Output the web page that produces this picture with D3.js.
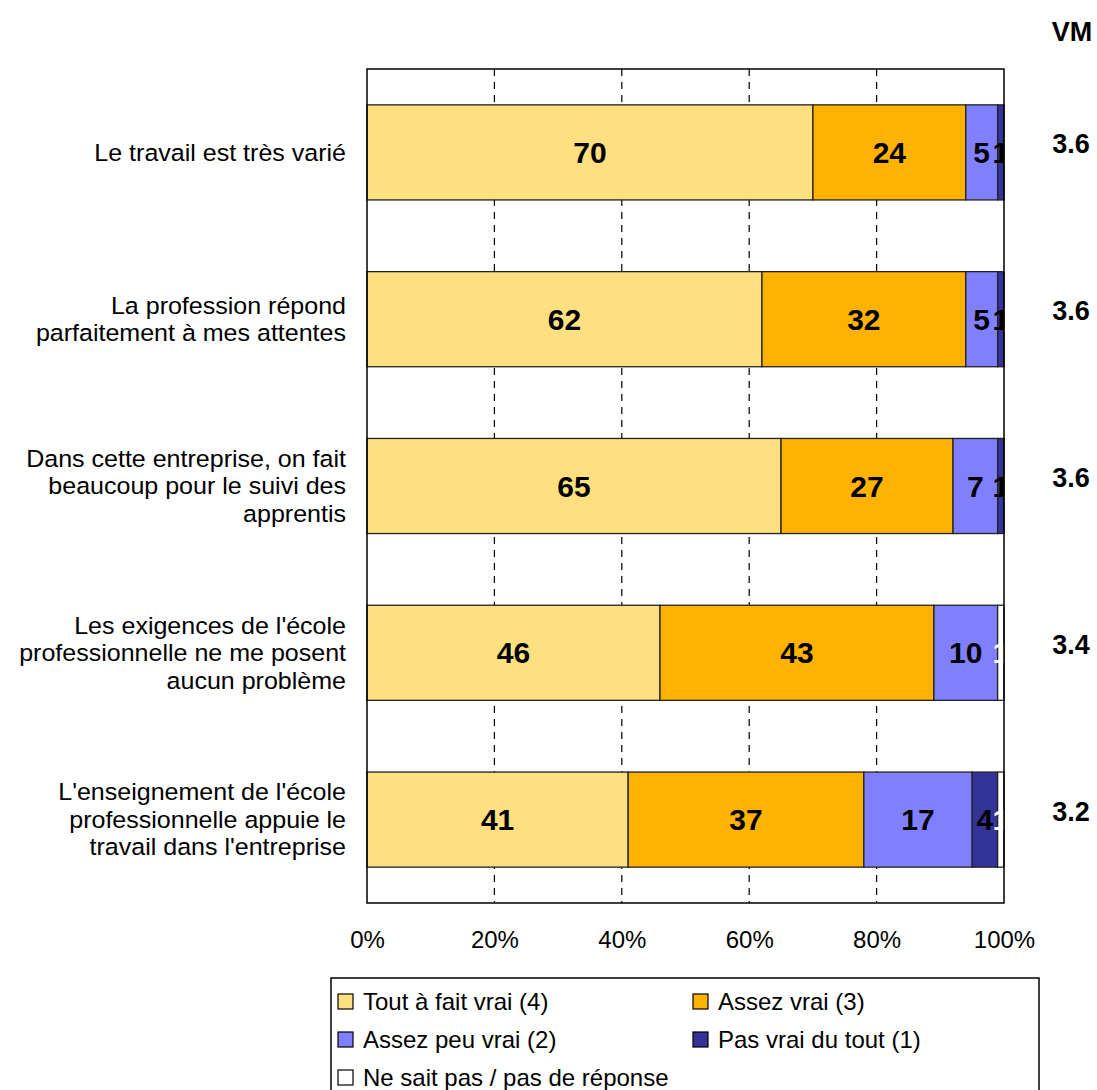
<!DOCTYPE html>
<html><head><meta charset="utf-8">
<script src="https://cdn.jsdelivr.net/npm/d3@7"></script>
<style>body{margin:0;background:#fff;} svg{display:block;font-family:Arial,"Liberation Sans",sans-serif;}</style>
</head><body>
<script>
const categories = [
  ["Le travail est très varié"],
  ["La profession répond", "parfaitement à mes attentes"],
  ["Dans cette entreprise, on fait", "beaucoup pour le suivi des", "apprentis"],
  ["Les exigences de l'école", "professionnelle ne me posent", "aucun problème"],
  ["L'enseignement de l'école", "professionnelle appuie le", "travail dans l'entreprise"]
];
const seriesNames = ["Tout à fait vrai (4)", "Assez vrai (3)", "Assez peu vrai (2)", "Pas vrai du tout (1)", "Ne sait pas / pas de réponse"];
const toutAFait = [70, 62, 65, 46, 41];
const assez = [24, 32, 27, 43, 37];
const assezPeu = [5, 5, 7, 10, 17];
const pasDuTout = [1, 1, 1, 0, 4];
const nsp = [0, 0, 0, 1, 1];
const vm = ["3.6", "3.6", "3.6", "3.4", "3.2"];
const ticks = [0, 20, 40, 60, 80, 100];

const series = [toutAFait, assez, assezPeu, pasDuTout, nsp];
const colors = ["#FFE080", "#FFB300", "#8080FF", "#333399", "#FFFFFF"];
const labelColors = ["#000", "#000", "#000", "#000", "#fff"];

const W = 1097, H = 1090;
const svg = d3.select("body").append("svg").attr("width", W).attr("height", H);
const L = 367, R = 1004, T = 69, B = 903;
const x = d3.scaleLinear().domain([0, 100]).range([L, R]);
const y = d3.scaleBand().domain(d3.range(categories.length)).range([T, B]).paddingInner(0.43).paddingOuter(0.215);

svg.append("defs").append("clipPath").attr("id", "plotclip")
  .append("rect").attr("x", L).attr("y", T).attr("width", R - L).attr("height", B - T);

// gridlines
svg.append("g").selectAll("line").data(ticks.slice(1, -1)).join("line")
  .attr("x1", d => x(d)).attr("x2", d => x(d)).attr("y1", T).attr("y2", B)
  .attr("stroke", "#000").attr("stroke-width", 1.2).attr("stroke-dasharray", "7,6");

// stacked bars
const rows = categories.map((c, i) => {
  let acc = 0;
  return series.map((s, k) => { const v = s[i]; const seg = {i, k, x0: acc, x1: acc + v, v}; acc += v; return seg; });
});
const segs = rows.flat();
const g = svg.append("g");
g.selectAll("rect").data(segs.filter(d => d.v > 0)).join("rect")
  .attr("x", d => x(d.x0)).attr("width", d => x(d.x1) - x(d.x0))
  .attr("y", d => y(d.i)).attr("height", y.bandwidth())
  .attr("fill", d => colors[d.k]).attr("stroke", "#222").attr("stroke-width", 1.3);

// labels
svg.append("g").attr("clip-path", "url(#plotclip)").selectAll("text").data(segs.filter(d => d.v > 0)).join("text")
  .attr("x", d => x((d.x0 + d.x1) / 2)).attr("y", d => y(d.i) + y.bandwidth() / 2)
  .attr("text-anchor", "middle").attr("dominant-baseline", "central")
  .attr("font-size", 30).attr("font-weight", "bold").attr("fill", d => labelColors[d.k])
  .text(d => d.v);

// plot border
svg.append("rect").attr("x", L).attr("y", T).attr("width", R - L).attr("height", B - T)
  .attr("fill", "none").attr("stroke", "#000").attr("stroke-width", 1.5);

// x axis tick labels
const xAxis = d3.axisBottom(x).tickValues(ticks).tickSize(0).tickPadding(0).tickFormat(d => d + "%");
const ax = svg.append("g").attr("transform", `translate(0,${B + 28})`).call(xAxis);
ax.select(".domain").remove();
ax.selectAll("text").attr("font-size", 24).attr("fill", "#000").attr("font-family", "Arial, 'Liberation Sans', sans-serif");

// category labels
const cl = svg.append("g").selectAll("text").data(categories).join("text")
  .attr("transform", "translate(346,0) scale(1.065,1)")
  .attr("text-anchor", "end").attr("font-size", 23.5).attr("fill", "#000");
cl.each(function(lines, i) {
  const cy = y(i) + y.bandwidth() / 2;
  const lh = 27.5;
  const t = d3.select(this);
  lines.forEach((ln, j) => {
    t.append("tspan").attr("x", 0).attr("y", cy + (j - (lines.length - 1) / 2) * lh)
      .attr("dominant-baseline", "central").text(ln);
  });
});

// VM
svg.append("text").attr("x", 1072).attr("y", 41).attr("text-anchor", "middle")
  .attr("font-size", 27).attr("font-weight", "bold").text("VM");
svg.append("g").selectAll("text").data(vm).join("text")
  .attr("x", 1071).attr("y", (d, i) => y(i) + y.bandwidth() / 2 - 8)
  .attr("text-anchor", "middle").attr("dominant-baseline", "central")
  .attr("font-size", 27).attr("font-weight", "bold").text(d => d);

// legend
const lg = svg.append("g");
lg.append("rect").attr("x", 331).attr("y", 978).attr("width", 1039 - 331).attr("height", 130)
  .attr("fill", "#fff").attr("stroke", "#000").attr("stroke-width", 1.5);
const legPos = [[338, 994], [693, 994], [338, 1032], [693, 1032], [338, 1070]];
const li = lg.selectAll("g").data(seriesNames).join("g")
  .attr("transform", (d, i) => `translate(${legPos[i][0]},${legPos[i][1]})`);
li.append("rect").attr("width", 15).attr("height", 15).attr("fill", (d, i) => colors[i])
  .attr("stroke", "#000").attr("stroke-width", 1.2);
li.append("text").attr("x", 25).attr("y", 7.5).attr("dominant-baseline", "central")
  .attr("font-size", 24).text(d => d);
</script>
</body></html>
